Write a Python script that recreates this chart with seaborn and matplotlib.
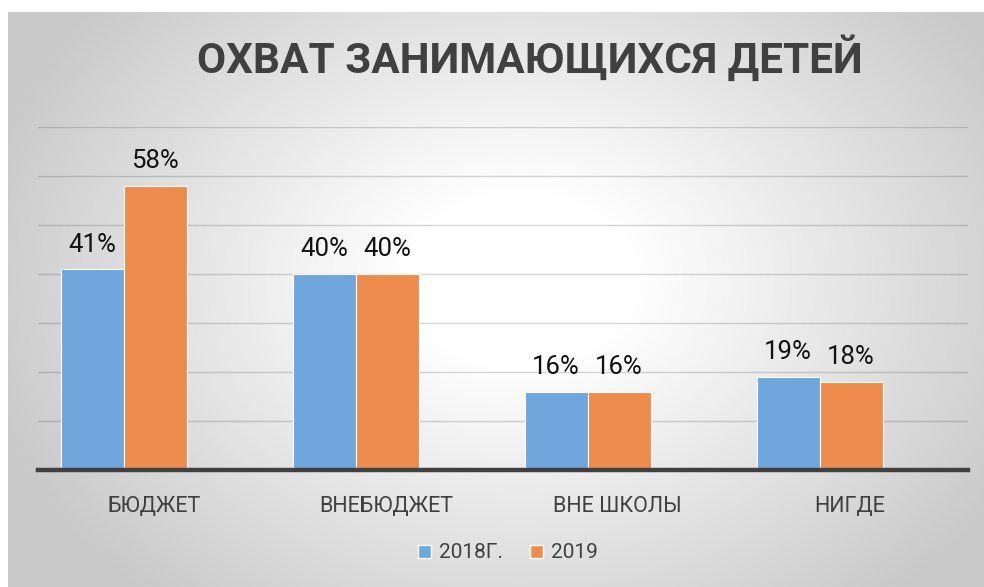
import numpy as np
import pandas as pd
import matplotlib
matplotlib.use("Agg")
import matplotlib.pyplot as plt
from matplotlib.patches import Patch
import seaborn as sns

categories = ["БЮДЖЕТ", "ВНЕБЮДЖЕТ", "ВНЕ ШКОЛЫ", "НИГДЕ"]
series_names = ["2018Г.", "2019"]
values_2018 = [41, 40, 16, 19]
values_2019 = [58, 40, 16, 18]
yticks = [0, 10, 20, 30, 40, 50, 60, 70]
title = "ОХВАТ ЗАНИМАЮЩИХСЯ ДЕТЕЙ"

df = pd.DataFrame({
    "cat": categories * 2,
    "year": [series_names[0]] * 4 + [series_names[1]] * 4,
    "val": values_2018 + values_2019,
})

sns.set_theme(style="white")
fam = ["Roboto", "DejaVu Sans"]
plt.rcParams["font.family"] = fam

W, H = 984, 587
fig = plt.figure(figsize=(W / 100, H / 100), dpi=100)
fig.patch.set_facecolor("white")

# radial gradient panel (pixel coords measured from figure top)
x0, y0 = 8, 12
bg = fig.add_axes([x0 / W, 0, (W - x0) / W, (H - y0) / H])
bg.set_axis_off()
xs = np.arange(x0, W) + 0.5
ys = np.arange(y0, H) + 0.5
xx, yy = np.meshgrid(xs, ys)
dx = (xx - 520) / 560.0
dy = (yy - 280) / 420.0
r = np.sqrt(dx ** 2 + dy ** 2)
v = 1.0 - 0.21 * np.clip((r - 0.2) / 0.8, 0, 1)
img = np.dstack([v, v, v])
bg.imshow(img, origin="upper", aspect="auto", extent=[0, 1, 0, 1],
          interpolation="bilinear", zorder=0)
bg.set_zorder(-5)

ax = fig.add_axes([38 / W, 117 / H, 930 / W, 343 / H])
ax.set_facecolor("none")
palette = {series_names[0]: "#6FA6DB", series_names[1]: "#EE8C4E"}
sns.barplot(data=df, x="cat", y="val", hue="year", palette=palette,
            width=0.543, gap=0, edgecolor="white", linewidth=0.8,
            saturation=1, legend=False, ax=ax, zorder=3)
ax.set_xlim(-0.37, 3.64)
ax.set_ylim(0, 70)
ax.set_yticks(yticks)
ax.yaxis.grid(True, color="black", alpha=0.16, linewidth=1.0, zorder=0)
ax.set_axisbelow(True)
ax.tick_params(axis="y", left=False, labelleft=False)
ax.set_xticks(np.arange(len(categories)) + 0.13)
ax.set_xticklabels(categories)
ax.tick_params(axis="x", bottom=False, pad=13)
for s in ["top", "right", "left"]:
    ax.spines[s].set_visible(False)
ax.spines["bottom"].set_color("#404040")
ax.spines["bottom"].set_linewidth(3.2)
ax.spines["bottom"].set_zorder(5)
ax.set_xlabel("")
ax.set_ylabel("")
for lbl in ax.get_xticklabels():
    lbl.set_fontsize(15.5)
    lbl.set_color("#404040")

for cont in ax.containers:
    ax.bar_label(cont, fmt="%.0f%%", padding=9, fontsize=18.5, color="#111111")

t = fig.text(530 / W, 1 - 59 / H, title, ha="center", va="center",
             fontweight="bold", fontsize=30, color="#404040")
fig.canvas.draw()
bw = t.get_window_extent().width
t.set_fontsize(30 * 665 / bw)

handles = [Patch(facecolor=palette[s], edgecolor="white", label=s) for s in series_names]
leg = fig.legend(handles=handles, loc="center", bbox_to_anchor=(508 / W, 1 - 553 / H),
                 ncol=2, frameon=False, handlelength=0.6, handleheight=0.6,
                 handletextpad=0.4, columnspacing=1.3, prop={"size": 15})
for tt in leg.get_texts():
    tt.set_color("#404040")

fig.savefig("out.png", dpi=100)
